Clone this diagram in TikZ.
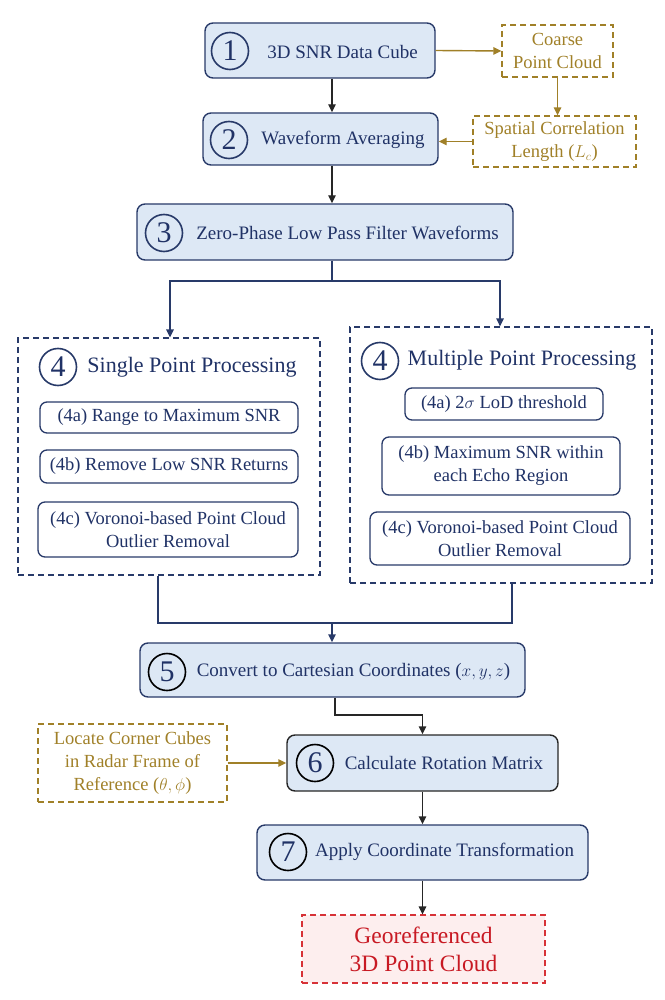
\documentclass[tikz,border=0pt]{standalone}
\usepackage{fontspec}
\setmainfont{Liberation Serif}
\usetikzlibrary{arrows.meta}
\definecolor{boxfill}{RGB}{221,232,245}
\definecolor{navy}{RGB}{40,58,105}
\definecolor{txtblue}{RGB}{32,50,102}
\definecolor{gold}{RGB}{160,128,40}
\definecolor{redc}{RGB}{200,25,35}
\definecolor{redline}{RGB}{215,50,55}
\definecolor{pinkfill}{RGB}{253,238,238}
\tikzset{
  mainbox/.style={draw=navy, line width=1.4pt, fill=boxfill, rounded corners=8pt, inner sep=0pt},
  mainboxk/.style={mainbox, draw=black!85},
  subbox/.style={draw=navy, line width=1.3pt, fill=white, rounded corners=7pt, text=txtblue, align=center, inner sep=0pt, font=\fontsize{18.5}{23}\selectfont},
  groupbox/.style={draw=navy, line width=1.3pt, dash pattern=on 6pt off 4pt, inner sep=0pt},
  goldbox/.style={draw=gold, line width=1.3pt, dash pattern=on 6pt off 4pt, text=gold, align=center, inner sep=0pt, font=\fontsize{18.5}{23}\selectfont},
  redbox/.style={draw=redline, line width=1.3pt, dash pattern=on 6pt off 4pt, fill=pinkfill, text=redc, align=center, inner sep=0pt, font=\fontsize{23.5}{28}\selectfont},
  numc/.style={circle, draw=navy, line width=1.6pt, minimum size=37pt, inner sep=0pt, text=txtblue, font=\fontsize{30}{30}\selectfont},
  numk/.style={numc, draw=black},
  lbl/.style={text=txtblue, font=\fontsize{19}{22}\selectfont, inner sep=0pt},
  ttl/.style={text=txtblue, font=\fontsize{22}{26}\selectfont, inner sep=0pt},
  arr/.style={-{Triangle[length=8pt,width=7.5pt]}, line width=1.4pt},
  blk/.style={arr, draw=black!85},
  blu/.style={arr, draw=navy},
  bluline/.style={draw=navy, line width=1.4pt},
  gar/.style={arr, draw=gold},
}
\begin{document}
\begin{tikzpicture}[x=1pt,y=-1pt]
\useasboundingbox (0,0) rectangle (664,1000);
% named coordinates
\coordinate (c12) at (332,0);
\coordinate (jt) at (332,281);
\coordinate (xl) at (170,0);
\coordinate (xr) at (500,0);
\coordinate (ml) at (158,0);
\coordinate (mr) at (512,0);
\coordinate (jb) at (332,623);
\coordinate (k56) at (335,715);

% step 1
\node[mainbox, minimum width=230pt, minimum height=55pt] (b1) at (320,50.5) {};
\node[numc] (n1) at (230,51) {1};
\node[lbl] (t1) at (342.5,52) {3D SNR Data Cube};
% coarse
\node[goldbox, minimum width=111pt, minimum height=52pt] (coarse) at (557.5,51) {Coarse\\Point Cloud};
% step 2
\node[mainbox, minimum width=235pt, minimum height=52pt] (b2) at (320.5,139) {};
\node[numc] (n2) at (229,140) {2};
\node[lbl] (t2) at (343,140) {Waveform Averaging};
% spatial
\node[goldbox, minimum width=163pt, minimum height=51pt] (spatial) at (554.5,141.5) {Spatial Correlation\\Length ($L_c$)};
% step 3
\node[mainbox, minimum width=376pt, minimum height=56pt] (b3) at (325,232) {};
\node[numc] (n3) at (164,233) {3};
\node[lbl] (t3) at (347.5,233) {Zero-Phase Low Pass Filter Waveforms};

% group boxes
\node[groupbox, minimum width=302pt, minimum height=237pt] (grpL) at (169,456.5) {};
\node[groupbox, minimum width=302pt, minimum height=256pt] (grpR) at (501,455) {};
\node[numc] (n4l) at (58,367) {4};
\node[ttl] (t4l) at (192,367) {Single Point Processing};
\node[numc] (n4r) at (380,361) {4};
\node[ttl] (t4r) at (522,360) {Multiple Point Processing};
\node[subbox, minimum width=258pt, minimum height=31pt] (l4a) at (169,417.5) {(4a) Range to Maximum SNR};
\node[subbox, minimum width=258pt, minimum height=33pt] (l4b) at (169,466.5) {(4b) Remove Low SNR Returns};
\node[subbox, minimum width=260pt, minimum height=55pt] (l4c) at (168,529.5) {(4c) Voronoi-based Point Cloud\\Outlier Removal};
\node[subbox, minimum width=198pt, minimum height=32pt] (r4a) at (504,404) {(4a) 2$\sigma$ LoD threshold};
\node[subbox, minimum width=238pt, minimum height=58pt] (r4b) at (501,466) {(4b) Maximum SNR within\\each Echo Region};
\node[subbox, minimum width=260pt, minimum height=53pt] (r4c) at (500,538.5) {(4c) Voronoi-based Point Cloud\\Outlier Removal};

% step 5
\node[mainbox, minimum width=385pt, minimum height=54pt] (b5) at (332.5,670) {};
\node[numk] (n5) at (167,672) {5};
\node[lbl] (t5) at (353.5,672) {Convert to Cartesian Coordinates ($x,y,z$)};
% locate
\node[goldbox, minimum width=189pt, minimum height=78pt] (locate) at (132.5,763) {Locate Corner Cubes\\in Radar Frame of\\Reference ($\theta,\phi$)};
% step 6
\node[mainboxk, minimum width=271pt, minimum height=56pt] (b6) at (422.5,763) {};
\node[numk] (n6) at (315,763) {6};
\node[lbl] (t6) at (444,763) {Calculate Rotation Matrix};
% step 7
\node[mainbox, minimum width=331pt, minimum height=55pt] (b7) at (422.5,852.5) {};
\node[numk] (n7) at (288,852) {7};
\node[lbl] (t7) at (444.5,852) {Apply Coordinate Transformation};
% final
\node[redbox, minimum width=243pt, minimum height=68pt] (geo) at (423.5,949) {Georeferenced\\3D Point Cloud};

% connectors
\draw[gar] (b1.east) -- (coarse.west);
\draw[gar] (coarse.south) -- (coarse.south |- spatial.north);
\draw[gar] (spatial.west) -- (spatial.west -| b2.east);
\draw[blk] (b1.south -| c12) -- (b2.north -| c12);
\draw[blk] (b2.south -| c12) -- (b3.north -| c12);
\draw[bluline] (b3.south -| jt) -- (jt);
\draw[blu] (jt) -| (grpL.north -| xl);
\draw[blu] (jt) -| (grpR.north -| xr);
\draw[bluline] (grpL.south -| ml) |- (jb) -| (grpR.south -| mr);
\draw[blu] (jb) -- (b5.north -| jb);
\draw[blk] (b5.south -| k56) -- (k56) -| (b6.north);
\draw[gar] (locate.east) -- (b6.west);
\draw[blk] (b6.south) -- (b7.north);
\draw[blk] (b7.south) -- (b7.south |- geo.north);
\end{tikzpicture}
\end{document}
